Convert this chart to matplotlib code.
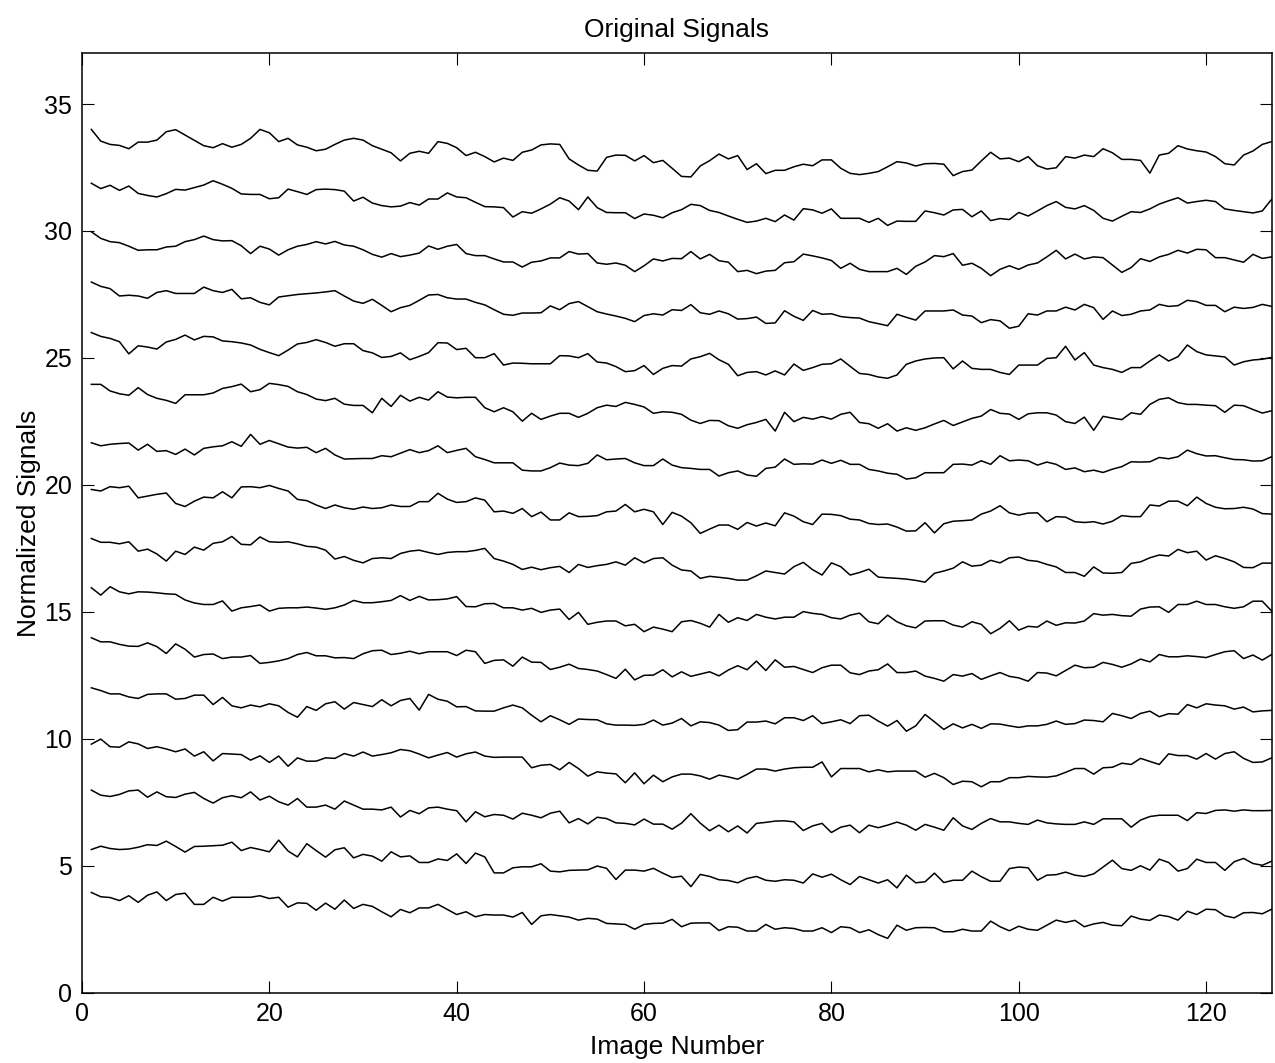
import matplotlib
matplotlib.use("Agg")
import matplotlib.pyplot as plt
import numpy as np

plt.rcParams['font.family'] = ['Liberation Sans', 'DejaVu Sans']

# Signals, images 1..127
s1 = [3.95, 3.78, 3.75, 3.63, 3.82, 3.56, 3.84, 3.97, 3.63, 3.87, 3.92, 3.48, 3.48, 3.76, 3.61, 3.76, 3.76, 3.76, 3.82, 3.71, 3.76, 3.37, 3.54, 3.52, 3.25, 3.53, 3.29, 3.65, 3.32, 3.48, 3.40, 3.19, 2.99, 3.28, 3.15, 3.34, 3.34, 3.48, 3.28, 3.08, 3.19, 2.99,
      3.08, 3.06, 3.06, 2.98, 3.16, 2.69, 3.03, 3.08, 3.03, 2.98, 2.86, 2.93, 2.90, 2.73, 2.71, 2.69, 2.50, 2.69, 2.73, 2.74, 2.89, 2.60, 2.74, 2.75, 2.75, 2.45, 2.60, 2.58, 2.43, 2.43, 2.69, 2.50, 2.56, 2.53, 2.43, 2.43, 2.56, 2.37, 2.60, 2.56, 2.37, 2.48,
      2.29, 2.14, 2.66, 2.46, 2.56, 2.57, 2.56, 2.40, 2.40, 2.50, 2.43, 2.43, 2.82, 2.60, 2.44, 2.62, 2.50, 2.46, 2.66, 2.86, 2.77, 2.85, 2.60, 2.71, 2.77, 2.66, 2.64, 3.02, 2.90, 2.85, 3.06, 3.00, 2.86, 3.21, 3.08, 3.29, 3.27, 3.03, 2.95, 3.15, 3.16, 3.11, 3.29]
s2 = [5.64, 5.77, 5.68, 5.64, 5.66, 5.73, 5.83, 5.80, 5.97, 5.76, 5.54, 5.76, 5.77, 5.79, 5.81, 5.93, 5.60, 5.72, 5.64, 5.55, 6.01, 5.58, 5.35, 5.87, 5.60, 5.34, 5.63, 5.71, 5.31, 5.45, 5.38, 5.18, 5.55, 5.35, 5.39, 5.13, 5.13, 5.27, 5.21, 5.47, 5.09, 5.50,
      5.35, 4.72, 4.72, 4.92, 4.96, 4.96, 5.08, 4.79, 4.76, 4.82, 4.83, 4.84, 4.99, 4.90, 4.46, 4.83, 4.83, 4.79, 4.90, 4.71, 4.54, 4.59, 4.18, 4.66, 4.58, 4.45, 4.42, 4.33, 4.50, 4.58, 4.43, 4.39, 4.45, 4.43, 4.32, 4.68, 4.55, 4.67, 4.45, 4.26, 4.58, 4.45,
      4.32, 4.45, 4.13, 4.63, 4.33, 4.37, 4.71, 4.34, 4.43, 4.43, 4.79, 4.57, 4.39, 4.39, 4.89, 4.95, 4.92, 4.43, 4.63, 4.65, 4.75, 4.63, 4.58, 4.68, 4.95, 5.22, 4.89, 4.82, 5.00, 4.83, 5.26, 5.13, 4.79, 4.89, 5.26, 5.13, 5.13, 4.82, 5.16, 5.29, 5.09, 5.02, 5.18]
s3 = [7.98, 7.78, 7.73, 7.81, 7.95, 7.98, 7.70, 7.91, 7.72, 7.69, 7.82, 7.89, 7.65, 7.47, 7.68, 7.76, 7.68, 7.91, 7.59, 7.74, 7.52, 7.39, 7.65, 7.31, 7.31, 7.39, 7.23, 7.55, 7.39, 7.23, 7.23, 7.20, 7.31, 6.92, 7.18, 7.05, 7.28, 7.31, 7.23, 7.17, 6.73, 7.13,
      6.93, 7.02, 6.99, 6.84, 7.07, 6.99, 6.89, 7.07, 7.15, 6.69, 6.86, 6.65, 6.91, 6.86, 6.69, 6.67, 6.61, 6.84, 6.64, 6.64, 6.44, 6.68, 7.05, 6.68, 6.38, 6.60, 6.34, 6.57, 6.29, 6.67, 6.71, 6.76, 6.77, 6.73, 6.39, 6.57, 6.67, 6.31, 6.52, 6.60, 6.30, 6.60,
      6.50, 6.60, 6.72, 6.60, 6.40, 6.63, 6.52, 6.40, 6.89, 6.57, 6.43, 6.67, 6.86, 6.73, 6.73, 6.67, 6.63, 6.80, 6.69, 6.65, 6.63, 6.63, 6.73, 6.63, 6.85, 6.85, 6.85, 6.52, 6.80, 6.94, 6.99, 6.99, 6.99, 6.78, 7.09, 7.06, 7.18, 7.20, 7.15, 7.20, 7.17, 7.17, 7.18]
s4 = [9.79, 9.99, 9.69, 9.67, 9.88, 9.80, 9.62, 9.69, 9.60, 9.49, 9.60, 9.32, 9.49, 9.13, 9.42, 9.40, 9.38, 9.16, 9.33, 9.07, 9.32, 8.92, 9.25, 9.12, 9.12, 9.25, 9.23, 9.42, 9.32, 9.48, 9.32, 9.38, 9.45, 9.58, 9.53, 9.40, 9.25, 9.36, 9.46, 9.28, 9.41, 9.48,
      9.32, 9.27, 9.28, 9.28, 9.28, 8.86, 8.96, 8.99, 8.78, 9.07, 8.83, 8.53, 8.70, 8.65, 8.62, 8.27, 8.66, 8.23, 8.57, 8.31, 8.50, 8.61, 8.61, 8.54, 8.41, 8.57, 8.50, 8.41, 8.60, 8.81, 8.81, 8.73, 8.81, 8.86, 8.88, 8.88, 9.09, 8.50, 8.83, 8.83, 8.83, 8.70,
      8.78, 8.70, 8.73, 8.73, 8.73, 8.49, 8.64, 8.47, 8.20, 8.33, 8.31, 8.11, 8.31, 8.31, 8.47, 8.47, 8.52, 8.50, 8.49, 8.54, 8.68, 8.83, 8.83, 8.61, 8.86, 8.88, 9.04, 8.99, 9.23, 9.11, 8.99, 9.41, 9.34, 9.34, 9.20, 9.42, 9.20, 9.42, 9.49, 9.23, 9.07, 9.09, 9.25]
s5 = [12.01, 11.90, 11.77, 11.77, 11.65, 11.59, 11.75, 11.77, 11.77, 11.56, 11.59, 11.72, 11.72, 11.35, 11.63, 11.30, 11.22, 11.33, 11.26, 11.38, 11.30, 11.04, 10.85, 11.27, 11.12, 11.38, 11.46, 11.17, 11.43, 11.35, 11.27, 11.54, 11.30, 11.51, 11.59, 11.13, 11.75, 11.56, 11.48, 11.26, 11.27, 11.10,
      11.09, 11.09, 11.22, 11.33, 11.22, 10.93, 10.67, 10.91, 10.75, 10.57, 10.78, 10.76, 10.75, 10.59, 10.54, 10.54, 10.53, 10.57, 10.74, 10.54, 10.62, 10.80, 10.51, 10.67, 10.64, 10.54, 10.33, 10.36, 10.66, 10.66, 10.70, 10.59, 10.83, 10.83, 10.72, 10.91, 10.60, 10.67, 10.75, 10.60, 10.91, 10.93,
      10.70, 10.50, 10.72, 10.30, 10.51, 10.96, 10.67, 10.37, 10.59, 10.43, 10.57, 10.41, 10.59, 10.58, 10.51, 10.45, 10.51, 10.51, 10.57, 10.70, 10.57, 10.60, 10.74, 10.72, 10.67, 11.00, 10.91, 10.80, 11.00, 11.09, 10.87, 10.99, 10.97, 11.35, 11.22, 11.38, 11.33, 11.30, 11.17, 11.25, 11.06, 11.10, 11.12]
s6 = [13.98, 13.82, 13.82, 13.72, 13.65, 13.64, 13.78, 13.63, 13.36, 13.74, 13.53, 13.22, 13.32, 13.34, 13.16, 13.22, 13.22, 13.28, 12.97, 13.01, 13.07, 13.16, 13.32, 13.40, 13.27, 13.27, 13.19, 13.20, 13.16, 13.35, 13.47, 13.49, 13.32, 13.37, 13.45, 13.35, 13.43, 13.43, 13.43, 13.28, 13.49, 13.43,
      12.97, 13.09, 13.11, 12.86, 13.22, 13.02, 13.01, 12.73, 12.82, 12.94, 12.77, 12.73, 12.67, 12.53, 12.38, 12.74, 12.32, 12.50, 12.51, 12.72, 12.44, 12.64, 12.46, 12.55, 12.64, 12.48, 12.71, 12.88, 12.72, 13.06, 12.69, 13.11, 12.82, 12.85, 12.73, 12.61, 12.80, 12.90, 12.90, 12.60, 12.53, 12.67,
      12.72, 12.95, 12.61, 12.61, 12.67, 12.47, 12.38, 12.27, 12.53, 12.47, 12.57, 12.34, 12.48, 12.61, 12.46, 12.40, 12.27, 12.61, 12.59, 12.48, 12.69, 12.90, 12.80, 12.82, 13.01, 12.93, 12.82, 12.95, 13.14, 13.03, 13.32, 13.23, 13.23, 13.27, 13.24, 13.20, 13.32, 13.43, 13.47, 13.16, 13.30, 13.10, 13.32]
s7 = [15.95, 15.66, 15.99, 15.79, 15.71, 15.79, 15.78, 15.75, 15.71, 15.69, 15.47, 15.35, 15.29, 15.29, 15.43, 15.03, 15.16, 15.21, 15.27, 15.03, 15.14, 15.16, 15.16, 15.19, 15.15, 15.10, 15.16, 15.27, 15.45, 15.36, 15.36, 15.40, 15.45, 15.64, 15.45, 15.61, 15.47, 15.48, 15.51, 15.60, 15.21, 15.20,
      15.32, 15.33, 15.16, 15.16, 15.07, 15.14, 14.98, 15.07, 15.11, 14.70, 14.98, 14.51, 14.59, 14.64, 14.64, 14.45, 14.51, 14.22, 14.40, 14.32, 14.22, 14.61, 14.66, 14.55, 14.40, 14.90, 14.59, 14.77, 14.66, 14.90, 14.79, 14.72, 14.79, 14.79, 15.01, 14.94, 14.90, 14.77, 14.72, 14.87, 14.95, 14.61,
      14.53, 14.87, 14.61, 14.45, 14.37, 14.64, 14.65, 14.65, 14.48, 14.40, 14.61, 14.51, 14.14, 14.35, 14.65, 14.28, 14.43, 14.40, 14.64, 14.47, 14.57, 14.56, 14.64, 14.93, 14.87, 14.90, 14.85, 14.83, 15.11, 15.19, 15.20, 14.98, 15.29, 15.29, 15.42, 15.29, 15.29, 15.20, 15.14, 15.20, 15.42, 15.42, 15.03]
s8 = [17.89, 17.74, 17.74, 17.68, 17.76, 17.39, 17.47, 17.28, 17.00, 17.39, 17.26, 17.55, 17.43, 17.70, 17.76, 17.97, 17.66, 17.64, 17.95, 17.76, 17.74, 17.76, 17.68, 17.58, 17.55, 17.43, 17.08, 17.18, 17.03, 16.93, 17.10, 17.13, 17.10, 17.30, 17.39, 17.43, 17.34, 17.26, 17.34, 17.37, 17.37, 17.42,
      17.50, 17.10, 17.00, 16.87, 16.67, 16.76, 16.66, 16.74, 16.79, 16.55, 16.87, 16.75, 16.82, 16.87, 16.97, 16.84, 17.13, 16.93, 17.10, 17.13, 16.84, 16.65, 16.61, 16.32, 16.40, 16.36, 16.32, 16.25, 16.25, 16.42, 16.61, 16.55, 16.49, 16.78, 16.95, 16.66, 16.45, 16.93, 16.78, 16.45, 16.55, 16.68,
      16.37, 16.34, 16.32, 16.29, 16.24, 16.17, 16.52, 16.61, 16.72, 16.97, 16.80, 16.84, 17.03, 16.93, 17.13, 17.16, 17.03, 16.99, 16.87, 16.77, 16.55, 16.55, 16.40, 16.77, 16.53, 16.52, 16.55, 16.91, 16.97, 17.13, 17.24, 17.20, 17.46, 17.33, 17.39, 17.04, 17.21, 17.10, 16.97, 16.75, 16.74, 16.92, 16.92]
s9 = [19.82, 19.76, 19.93, 19.89, 19.95, 19.49, 19.56, 19.63, 19.68, 19.27, 19.15, 19.36, 19.52, 19.49, 19.73, 19.49, 19.92, 19.93, 19.89, 19.98, 19.86, 19.76, 19.43, 19.38, 19.21, 19.07, 19.21, 19.10, 19.04, 19.13, 19.07, 19.10, 19.21, 19.15, 19.15, 19.34, 19.34, 19.67, 19.44, 19.31, 19.34, 19.49,
      19.40, 18.94, 18.97, 18.88, 19.07, 18.75, 18.93, 18.62, 18.62, 18.90, 18.75, 18.76, 18.79, 18.94, 18.97, 19.23, 18.94, 19.04, 18.94, 18.44, 18.92, 18.77, 18.51, 18.09, 18.26, 18.42, 18.42, 18.25, 18.52, 18.38, 18.50, 18.39, 18.90, 18.77, 18.55, 18.44, 18.85, 18.84, 18.79, 18.65, 18.62, 18.48,
      18.44, 18.46, 18.34, 18.18, 18.19, 18.51, 18.11, 18.47, 18.57, 18.59, 18.62, 18.85, 18.97, 19.18, 18.90, 18.81, 18.89, 18.90, 18.55, 18.75, 18.73, 18.55, 18.52, 18.55, 18.46, 18.57, 18.79, 18.75, 18.75, 19.21, 19.17, 19.36, 19.36, 19.18, 19.52, 19.27, 19.12, 19.06, 19.07, 19.12, 19.05, 18.87, 18.85]
s10 = [21.66, 21.54, 21.60, 21.63, 21.65, 21.37, 21.60, 21.32, 21.35, 21.20, 21.41, 21.18, 21.44, 21.50, 21.54, 21.70, 21.52, 21.99, 21.60, 21.75, 21.62, 21.49, 21.45, 21.48, 21.27, 21.44, 21.18, 21.02, 21.03, 21.04, 21.04, 21.15, 21.11, 21.25, 21.39, 21.27, 21.35, 21.54, 21.27, 21.36, 21.44, 21.11,
       21.00, 20.87, 20.87, 20.87, 20.58, 20.55, 20.55, 20.68, 20.86, 20.78, 20.76, 20.85, 21.18, 20.99, 21.02, 21.04, 20.87, 20.76, 20.76, 21.02, 20.78, 20.68, 20.65, 20.61, 20.61, 20.35, 20.48, 20.55, 20.39, 20.34, 20.65, 20.70, 21.02, 20.81, 20.83, 20.82, 20.98, 20.85, 20.97, 20.81, 20.81, 20.61,
       20.55, 20.46, 20.42, 20.23, 20.28, 20.48, 20.48, 20.48, 20.81, 20.82, 20.78, 20.95, 20.81, 21.15, 20.95, 20.98, 20.95, 20.78, 20.90, 20.81, 20.61, 20.67, 20.52, 20.58, 20.49, 20.62, 20.72, 20.91, 20.90, 20.91, 21.08, 21.03, 21.11, 21.37, 21.23, 21.14, 21.15, 21.07, 21.00, 20.99, 20.94, 20.95, 21.11]
s11 = [23.96, 23.96, 23.70, 23.59, 23.53, 23.83, 23.56, 23.41, 23.33, 23.21, 23.55, 23.55, 23.55, 23.62, 23.80, 23.87, 23.97, 23.67, 23.75, 24.00, 23.95, 23.88, 23.67, 23.56, 23.38, 23.32, 23.41, 23.18, 23.13, 23.13, 22.84, 23.41, 23.09, 23.53, 23.30, 23.45, 23.34, 23.67, 23.46, 23.43, 23.45, 23.45,
       23.04, 22.88, 23.04, 22.88, 22.51, 22.82, 22.58, 22.71, 22.82, 22.82, 22.66, 22.82, 23.04, 23.14, 23.09, 23.25, 23.17, 23.07, 22.82, 22.88, 22.86, 22.78, 22.55, 22.42, 22.54, 22.53, 22.33, 22.23, 22.37, 22.46, 22.58, 22.12, 22.86, 22.49, 22.66, 22.59, 22.69, 22.59, 22.78, 22.86, 22.46, 22.41,
       22.23, 22.41, 22.12, 22.25, 22.15, 22.25, 22.40, 22.54, 22.34, 22.48, 22.62, 22.71, 22.97, 22.82, 22.79, 22.58, 22.80, 22.84, 22.84, 22.75, 22.49, 22.42, 22.67, 22.15, 22.70, 22.63, 22.57, 22.84, 22.78, 23.17, 23.37, 23.43, 23.24, 23.17, 23.17, 23.14, 23.12, 22.86, 23.14, 23.12, 22.97, 22.83, 22.92]
s12 = [26.00, 25.85, 25.77, 25.64, 25.16, 25.48, 25.43, 25.35, 25.63, 25.73, 25.90, 25.71, 25.85, 25.83, 25.67, 25.64, 25.59, 25.51, 25.34, 25.21, 25.09, 25.31, 25.55, 25.61, 25.72, 25.61, 25.46, 25.56, 25.56, 25.29, 25.20, 25.02, 25.06, 25.20, 24.93, 25.06, 25.21, 25.60, 25.59, 25.33, 25.38, 25.01,
       25.01, 25.17, 24.72, 24.80, 24.79, 24.77, 24.77, 24.77, 25.09, 25.08, 25.01, 25.17, 24.84, 24.80, 24.66, 24.46, 24.50, 24.70, 24.35, 24.59, 24.70, 24.68, 24.96, 25.05, 25.18, 24.93, 24.75, 24.30, 24.43, 24.46, 24.33, 24.49, 24.33, 24.76, 24.51, 24.62, 24.75, 24.77, 24.96, 24.67, 24.39, 24.35,
       24.25, 24.20, 24.33, 24.75, 24.88, 24.96, 25.00, 25.01, 24.57, 24.88, 24.59, 24.55, 24.55, 24.43, 24.35, 24.72, 24.72, 24.72, 24.98, 25.01, 25.46, 24.92, 25.21, 24.72, 24.62, 24.55, 24.43, 24.62, 24.62, 24.88, 25.12, 24.88, 25.05, 25.51, 25.25, 25.12, 25.08, 25.04, 24.72, 24.85, 24.92, 24.95, 25.02]
s13 = [27.99, 27.82, 27.73, 27.44, 27.47, 27.44, 27.35, 27.58, 27.65, 27.54, 27.54, 27.54, 27.79, 27.65, 27.58, 27.70, 27.33, 27.37, 27.19, 27.09, 27.40, 27.45, 27.50, 27.53, 27.56, 27.60, 27.65, 27.44, 27.24, 27.15, 27.31, 27.07, 26.82, 26.98, 27.07, 27.27, 27.48, 27.50, 27.37, 27.32, 27.32, 27.19,
       27.09, 26.90, 26.72, 26.68, 26.77, 26.77, 26.78, 27.05, 26.90, 27.14, 27.22, 27.02, 26.82, 26.73, 26.65, 26.56, 26.43, 26.67, 26.74, 26.69, 26.90, 26.87, 27.10, 26.78, 26.72, 26.85, 26.74, 26.53, 26.55, 26.61, 26.36, 26.38, 26.86, 26.64, 26.48, 26.87, 26.72, 26.74, 26.63, 26.59, 26.57, 26.43,
       26.35, 26.27, 26.72, 26.60, 26.49, 26.85, 26.85, 26.85, 26.89, 26.69, 26.65, 26.39, 26.51, 26.46, 26.17, 26.25, 26.74, 26.69, 26.85, 26.85, 27.00, 26.89, 27.11, 26.98, 26.52, 26.85, 26.67, 26.72, 26.85, 26.89, 27.11, 27.03, 27.06, 27.27, 27.22, 27.07, 27.07, 26.82, 27.00, 26.95, 26.99, 27.11, 27.03]
s14 = [29.97, 29.71, 29.58, 29.54, 29.40, 29.24, 29.26, 29.26, 29.37, 29.40, 29.58, 29.66, 29.80, 29.66, 29.61, 29.62, 29.42, 29.11, 29.40, 29.29, 29.05, 29.26, 29.40, 29.47, 29.58, 29.49, 29.59, 29.45, 29.40, 29.26, 29.08, 28.97, 29.11, 28.99, 29.05, 29.13, 29.41, 29.28, 29.40, 29.47, 29.11, 29.03,
       29.03, 28.90, 28.78, 28.78, 28.58, 28.77, 28.82, 28.94, 28.94, 29.19, 29.09, 29.11, 28.74, 28.69, 28.74, 28.65, 28.40, 28.63, 28.90, 28.82, 28.92, 28.91, 29.19, 28.90, 29.08, 28.83, 28.77, 28.40, 28.45, 28.32, 28.42, 28.45, 28.75, 28.79, 29.09, 29.02, 28.94, 28.84, 28.53, 28.73, 28.49, 28.40,
       28.40, 28.40, 28.53, 28.29, 28.61, 28.78, 29.03, 28.99, 29.11, 28.65, 28.73, 28.53, 28.24, 28.49, 28.63, 28.49, 28.66, 28.74, 28.98, 29.24, 28.90, 29.09, 28.90, 28.98, 28.95, 28.66, 28.37, 28.56, 28.91, 28.80, 28.98, 29.08, 29.24, 29.13, 29.28, 29.26, 28.95, 28.95, 28.86, 28.77, 29.08, 28.92, 28.98]
s15 = [31.88, 31.67, 31.80, 31.60, 31.77, 31.48, 31.40, 31.34, 31.47, 31.64, 31.61, 31.71, 31.81, 31.98, 31.84, 31.68, 31.46, 31.44, 31.44, 31.27, 31.31, 31.65, 31.55, 31.44, 31.63, 31.65, 31.63, 31.57, 31.18, 31.33, 31.10, 31.00, 30.95, 30.98, 31.12, 31.02, 31.26, 31.26, 31.50, 31.34, 31.31, 31.13,
       30.96, 30.95, 30.92, 30.55, 30.76, 30.70, 30.87, 31.06, 31.31, 31.18, 30.84, 31.34, 30.92, 30.73, 30.72, 30.72, 30.49, 30.67, 30.62, 30.52, 30.72, 30.84, 31.05, 31.00, 30.81, 30.73, 30.59, 30.46, 30.34, 30.39, 30.50, 30.37, 30.63, 30.43, 30.88, 30.83, 30.70, 30.87, 30.50, 30.50, 30.50, 30.34,
       30.50, 30.22, 30.39, 30.38, 30.38, 30.79, 30.72, 30.63, 30.83, 30.85, 30.56, 30.79, 30.41, 30.49, 30.45, 30.73, 30.59, 30.79, 31.00, 31.16, 30.93, 30.87, 31.00, 30.81, 30.50, 30.39, 30.58, 30.76, 30.73, 30.87, 31.06, 31.19, 31.31, 31.10, 31.16, 31.21, 31.16, 30.87, 30.81, 30.76, 30.71, 30.79, 31.25]
s16 = [34.00, 33.54, 33.41, 33.37, 33.24, 33.50, 33.50, 33.58, 33.91, 33.99, 33.78, 33.57, 33.36, 33.28, 33.44, 33.30, 33.41, 33.65, 34.00, 33.87, 33.52, 33.65, 33.39, 33.30, 33.16, 33.22, 33.41, 33.58, 33.65, 33.58, 33.36, 33.22, 33.08, 32.76, 33.06, 33.14, 33.06, 33.52, 33.45, 33.28, 32.97, 33.10,
       32.93, 32.72, 32.87, 32.78, 33.10, 33.19, 33.39, 33.43, 33.41, 32.84, 32.60, 32.39, 32.36, 32.90, 32.99, 32.98, 32.76, 32.97, 32.69, 32.78, 32.47, 32.15, 32.13, 32.56, 32.77, 33.03, 32.84, 32.97, 32.42, 32.65, 32.26, 32.39, 32.39, 32.53, 32.63, 32.57, 32.80, 32.80, 32.47, 32.27, 32.22, 32.27,
       32.34, 32.53, 32.73, 32.68, 32.56, 32.65, 32.66, 32.63, 32.18, 32.34, 32.40, 32.76, 33.10, 32.84, 32.87, 32.73, 32.93, 32.57, 32.44, 32.49, 32.93, 32.87, 32.99, 32.93, 33.24, 33.08, 32.82, 32.82, 32.78, 32.28, 32.99, 33.06, 33.36, 33.23, 33.16, 33.11, 32.93, 32.65, 32.60, 32.99, 33.15, 33.41, 33.52]

signals = [s1, s2, s3, s4, s5, s6, s7, s8, s9, s10, s11, s12, s13, s14, s15, s16]
x_ticks = [0, 20, 40, 60, 80, 100, 120]
y_ticks = [0, 5, 10, 15, 20, 25, 30, 35]

fig = plt.figure(figsize=(12.75, 10.63), dpi=100)
ax = fig.add_axes([0.0643, 0.0661, 0.9331, 0.8838])

for s in signals:
    x = np.arange(1, len(s) + 1)
    ax.plot(x, s, color='black', linewidth=1.1)

ax.set_xlim(0, 127)
ax.set_ylim(0, 37)
ax.set_xticks(x_ticks)
ax.set_yticks(y_ticks)
ax.tick_params(direction='in', length=8.5, width=0.8, labelsize=18,
               top=True, right=True, pad=7)
for sp in ax.spines.values():
    sp.set_linewidth(1.1)

ax.set_title('Original Signals', fontsize=19, pad=12)
ax.set_xlabel('Image Number', fontsize=19, labelpad=6)
ax.set_ylabel('Normalized Signals', fontsize=19, labelpad=2)

fig.savefig('out.png', dpi=100)
